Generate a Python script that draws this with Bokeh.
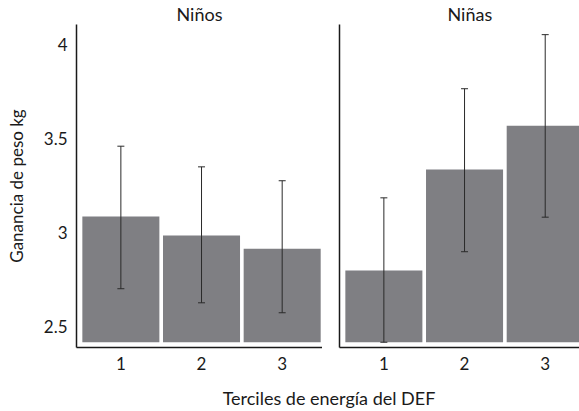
from bokeh.plotting import figure
from bokeh.layouts import row, column
from bokeh.models import (Div, Range1d, FixedTicker, Whisker, ColumnDataSource,
                          TeeHead, NumeralTickFormatter)
from bokeh.embed import file_html
from bokeh.resources import INLINE

# ---- data ----
terciles = [1, 2, 3]
tercile_labels = ["1", "2", "3"]
panel_titles = ["Niños", "Niñas"]

ninos_mean = [3.087, 2.986, 2.915]
ninos_lower = [2.702, 2.627, 2.574]
ninos_upper = [3.461, 3.351, 3.277]

ninas_mean = [2.799, 3.337, 3.570]
ninas_lower = [2.417, 2.899, 3.083]
ninas_upper = [3.186, 3.767, 4.055]

y_ticks = [2.5, 3.0, 3.5, 4.0]

y_label = "Ganancia de peso kg"
x_label = "Terciles de energía del DEF"

# ---- style ----
FONT = "Lato"
TXT = "#1a1a1a"
BAR = "#7f7f83"
BASE = 2.417
Y0, Y1 = 2.389, 4.109
X0 = 0.45


def panel(title, means, lower, upper, width, border_left, x_end, show_ylabels,
          title_align, title_offset):
    p = figure(width=width, height=385, output_backend="svg", toolbar_location=None,
               x_range=Range1d(X0, x_end), y_range=Range1d(Y0, Y1),
               min_border_left=border_left, min_border_right=0,
               min_border_top=24, min_border_bottom=38)
    p.title.text = title
    p.title.align = title_align
    p.title.text_font = FONT
    p.title.text_font_size = "18px"
    p.title.text_font_style = "normal"
    p.title.text_color = TXT
    p.title.standoff = 0
    p.title.offset = title_offset
    p.outline_line_color = None
    p.xgrid.grid_line_color = None
    p.ygrid.grid_line_color = None

    src = ColumnDataSource(dict(x=terciles, top=means, lower=lower, upper=upper,
                                bottom=[BASE] * len(means)))
    p.vbar(x="x", top="top", bottom="bottom", width=0.955, source=src,
           fill_color=BAR, line_color=None)
    w = Whisker(base="x", upper="upper", lower="lower", source=src,
                line_color="#2a2a2a", line_width=1, level="annotation",
                upper_head=TeeHead(size=7, line_color="#2a2a2a", line_width=1),
                lower_head=TeeHead(size=7, line_color="#2a2a2a", line_width=1))
    p.add_layout(w)

    p.xaxis.ticker = FixedTicker(ticks=terciles)
    p.xaxis.major_label_overrides = {t: l for t, l in zip(terciles, tercile_labels)}
    p.xaxis.major_tick_out = 0
    p.xaxis.major_tick_in = 0
    p.xaxis.minor_tick_out = 0
    p.xaxis.minor_tick_in = 0
    p.xaxis.major_label_standoff = 9
    p.xaxis.major_label_text_font = FONT
    p.xaxis.major_label_text_font_size = "17px"
    p.xaxis.major_label_text_color = TXT
    p.xaxis.axis_line_color = "#1a1a1a"
    p.xaxis.axis_line_width = 1.5

    p.yaxis.major_tick_out = 0
    p.yaxis.major_tick_in = 0
    p.yaxis.minor_tick_out = 0
    p.yaxis.minor_tick_in = 0
    p.yaxis.axis_line_color = "#1a1a1a"
    p.yaxis.axis_line_width = 1.5
    if show_ylabels:
        p.yaxis.ticker = FixedTicker(ticks=y_ticks)
        p.yaxis.formatter = NumeralTickFormatter(format="0.[0]")
        p.yaxis.major_label_standoff = 9
        p.yaxis.major_label_text_font = FONT
        p.yaxis.major_label_text_font_size = "17px"
        p.yaxis.major_label_text_color = TXT
        p.yaxis.axis_label = y_label
        p.yaxis.axis_label_text_font = FONT
        p.yaxis.axis_label_text_font_size = "17px"
        p.yaxis.axis_label_text_font_style = "normal"
        p.yaxis.axis_label_text_color = TXT
        p.yaxis.axis_label_standoff = 14
    else:
        p.yaxis.ticker = FixedTicker(ticks=[])
        p.yaxis.major_label_standoff = 0
    return p


p1 = panel(panel_titles[0], ninos_mean, ninos_lower, ninos_upper, 322, 76, 3.50, True,
           "center", 0)
p2 = panel(panel_titles[1], ninas_mean, ninas_lower, ninas_upper, 257, 17, 3.425, False,
           "left", 108)

div = Div(text=('<div style="box-sizing:border-box; padding-top:2px; padding-left:79px; '
                'text-align:center; font-family:Lato; font-size:18px; line-height:22px; '
                'color:#1a1a1a; width:579px;">' + x_label + '</div>'),
          width=579, height=26, margin=0)

layout = column(row(p1, p2), div)

open("out.html", "w").write(file_html(layout, INLINE))
